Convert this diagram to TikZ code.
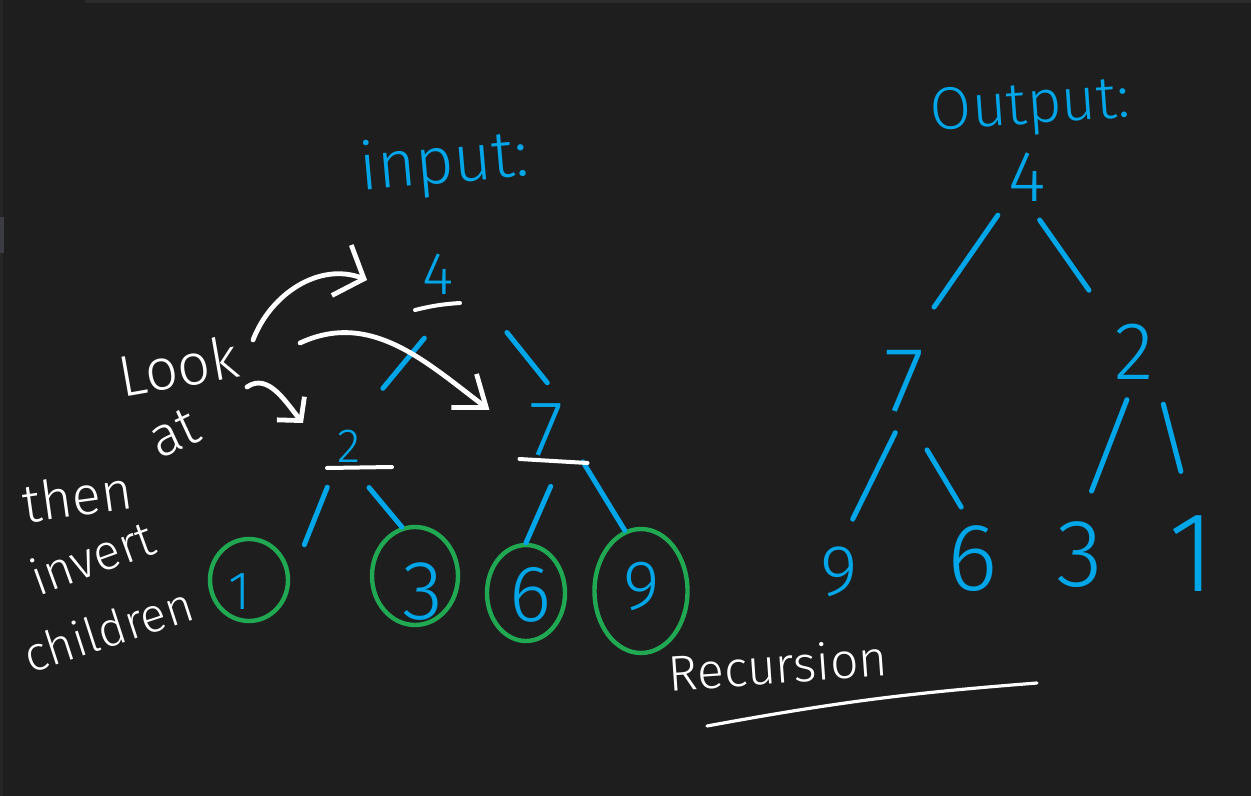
\documentclass[tikz,border=0pt]{standalone}
\usepackage{fontspec}
\setmainfont{Fira Sans}[UprightFont=* Light]
\usetikzlibrary{arrows.meta,shapes.geometric}
\definecolor{board}{HTML}{1E1E1E}
\definecolor{uiside}{HTML}{252526}
\definecolor{uitab}{HTML}{3C3C44}
\definecolor{uitop}{HTML}{2B2B2B}
\definecolor{inkblue}{RGB}{0,166,232}
\definecolor{inkgreen}{RGB}{32,168,82}
\newcommand\fsz[1]{\fontsize{#1pt}{#1pt}\selectfont}

\begin{document}
\begin{tikzpicture}
  [x=0.5pt,y=0.5pt,
   line cap=round,line join=round,
   digit/.style={text=inkblue,inner sep=0pt,outer sep=0pt},
   word/.style={text=white,inner sep=0pt,outer sep=0pt},
   branch/.style={draw=inkblue,line width=2.5pt},
   ring/.style={ellipse,draw=inkgreen,line width=2.2pt,inner sep=0pt},
   chalk/.style={draw=white,line width=2.4pt},
   pointer/.style 2 args={chalk,-{Straight Barb[length=#1,width=#2]}}]

  % board
  \useasboundingbox (0,0) rectangle (1251,-796);
  \fill[board] (0,0) rectangle (1251,-796);
  \fill[uiside] (0,0) rectangle (3,-796);
  \fill[uitab] (0,-217) rectangle (4,-253);
  \fill[uitop] (85,0) rectangle (1251,-3);

  % input tree
  \node[word,text=inkblue,font=\fsz{33},rotate=5] (intitle) at (444,-165) {input:};
  \node[digit,font=\fsz{30},minimum width=21.5pt,minimum height=21pt] (in4) at (438.5,-274) {4};
  \node[digit,font=\fsz{24},minimum width=11.5pt,minimum height=16.5pt] (in2) at (348.5,-446.5) {2};
  \node[digit,font=\fsz{39},minimum width=16.5pt,minimum height=27pt] (in7) at (546.5,-430) {7};

  \node[ring,minimum width=39pt,minimum height=41pt] (r1) at (249,-580) {};
  \node[ring,minimum width=43pt,minimum height=49pt] (r3) at (415,-576) {};
  \node[ring,minimum width=39pt,minimum height=48pt] (r6) at (526,-593) {};
  \node[ring,minimum width=46.5pt,minimum height=62pt] (r9) at (641,-591) {};
  \node[digit,font=\fsz{27}] (in1) at (240,-592) {1};
  \node[digit,font=\fsz{42}] (in3) at (423,-592) {3};
  \node[digit,font=\fsz{40}] (in6) at (530,-595) {6};
  \node[digit,font=\fsz{35}] (in9) at (642,-586) {9};

  \draw[branch,shorten <=28pt,shorten >=27pt] (in4.south east) -- (in2.north);
  \draw[branch,shorten <=37.5pt,shorten >=13pt] (in4.east) -- (in7.north east);
  \draw[branch,shorten <=13pt,shorten >=19pt] (in2.south west) -- (r1.east);
  \draw[branch,shorten <=16pt] (in2.south) -- (r3.105);
  \draw[branch,shorten <=16pt] (in7.south east) -- (r6.north);
  \draw[branch,shorten <=18.7pt] (in7.east) -- (r9.105);

  \draw[chalk,line width=2pt] ([shift={(-2,-15)}]in4.south west) to[bend left=5] ([shift={(0,-8)}]in4.south east);
  \draw[chalk,line width=2pt] ([shift={(-10,-5)}]in2.south west) -- ([shift={(32,-4)}]in2.south east);
  \draw[chalk,line width=2pt] ([shift={(-10,-2)}]in7.south west) -- ([shift={(24,-6)}]in7.south east);

  % notes
  \node[word,font=\fsz{29},rotate=10] (look) at (178,-366) {Look};
  \node[word,font=\fsz{28},rotate=25] (lookat) at (174,-433) {at};
  \node[word,font=\fsz{27},rotate=8] (then) at (77,-496) {then};
  \node[word,font=\fsz{25},rotate=20] (invert) at (92,-557) {invert};
  \node[word,font=\fsz{24},rotate=18] (children) at (108,-629) {children};
  \node[word,font=\fsz{25},rotate=4] (rec) at (778,-665) {Recursion};

  \draw[pointer={12pt}{27pt}] ([shift={(75,26)}]look.center) to[out=69,in=159] ([shift={(-50,-6)}]in4.west);
  \draw[pointer={14pt}{21pt}] ([shift={(122,23)}]look.center) to[out=25,in=143] ([shift={(-40,-7)}]in7.north west);
  \draw[pointer={8pt}{18pt}] ([shift={(69,-21)}]look.center) to[out=35,in=130] ([shift={(-34,7)}]in2.north west);
  \draw[chalk,line width=1.6pt] ([shift={(-71,-61)}]rec.center) to[bend left=3] ([shift={(259,-18)}]rec.center);

  % output tree
  \node[word,text=inkblue,font=\fsz{30},rotate=4] (outtitle) at (1030,-109) {Output:};
  \node[digit,font=\fsz{36},minimum width=20pt,minimum height=25pt] (out4) at (1027,-177) {4};
  \node[digit,font=\fsz{46},minimum width=28pt,minimum height=32pt] (out7) at (905,-381) {7};
  \node[digit,font=\fsz{41},minimum width=22.5pt,minimum height=28.5pt] (out2) at (1134.5,-351.5) {2};
  \node[digit,font=\fsz{36},minimum width=16pt,minimum height=25pt] (out9) at (839,-572) {9};
  \node[digit,font=\fsz{48},minimum width=20.5pt,minimum height=33pt] (out6) at (972.5,-559) {6};
  \node[digit,font=\fsz{48},minimum width=27pt,minimum height=33.5pt] (out3) at (1080,-554.5) {3};
  \node[digit,font=\fsz{57},minimum width=10pt,minimum height=39.5pt] (out1) at (1192,-553.5) {1};

  \draw[branch,shorten <=8pt,shorten >=25.5pt] (out4.south west) -- (out7.north);
  \draw[branch,shorten <=11pt,shorten >=20pt] (out4.south) -- (out2.north west);
  \draw[branch,shorten <=11pt,shorten >=15.5pt] (out7.south) -- (out9.north);
  \draw[branch,shorten <=21.5pt,shorten >=11pt] (out7.south) -- (out6.north);
  \draw[branch,shorten <=10.5pt,shorten >=16pt] (out2.south) -- (out3.north);
  \draw[branch,shorten <=12.5pt,shorten >=22pt] (out2.south east) -- (out1.north);
\end{tikzpicture}
\end{document}
